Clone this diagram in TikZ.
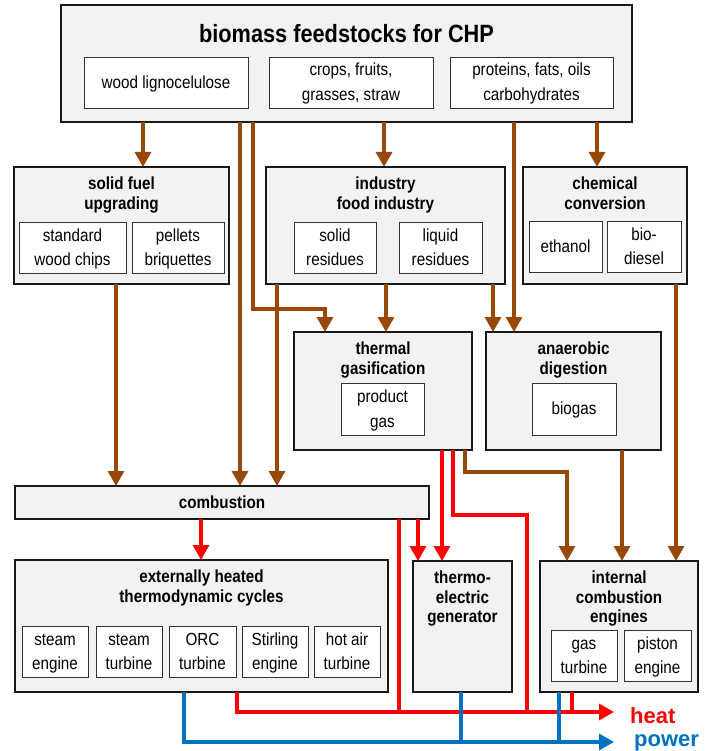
\documentclass[tikz,border=0pt]{standalone}
\usepackage{fontspec}
\setmainfont{Liberation Sans}[FakeStretch=0.87]
\newfontfamily\flowfont{Liberation Sans}
\usetikzlibrary{arrows.meta,positioning}
\definecolor{fuelbrown}{RGB}{151,71,6}
\definecolor{heatred}{RGB}{255,0,0}
\definecolor{powerblue}{RGB}{0,112,192}
\definecolor{panelgray}{RGB}{242,242,242}

\begin{document}
\begin{tikzpicture}[x=1pt, y=-1pt,
    stagebox/.style={draw=black!90, line width=1.5pt, fill=panelgray, inner sep=0pt, outer sep=0pt, anchor=north west},
    itembox/.style={draw=black!80, line width=0.9pt, fill=white, inner sep=0pt, outer sep=0pt, anchor=north west, align=center,
                    font=\fontsize{17.5}{24.5}\selectfont, text height=42.5pt, text depth=6.5pt},
    itemone/.style={itembox, text height=18pt},
    stagetitle/.style={inner sep=0pt, outer sep=0pt, align=center, font=\bfseries\fontsize{17.5}{19.5}\selectfont},
    fuelarrow/.style={draw=fuelbrown, line width=3.2pt, -{Triangle[length=15pt,width=16pt]}},
    heatarrow/.style={draw=heatred, line width=3.2pt, -{Triangle[length=15pt,width=16pt]}},
    heatline/.style={draw=heatred, line width=3.2pt},
    powerarrow/.style={draw=powerblue, line width=3.2pt, -{Triangle[length=15pt,width=16pt]}},
    powerline/.style={draw=powerblue, line width=3.2pt},
    flowlabel/.style={inner sep=0pt, font=\flowfont\bfseries\fontsize{22}{24}\selectfont}]
    \useasboundingbox (0,0) rectangle (710,751);
    % feedstocks
    \node[stagebox, minimum width=571pt, minimum height=117pt] (feed) at (61,5) {};
    \node[stagetitle, font=\bfseries\fontsize{25}{27}\selectfont, below=19pt of feed.north] (feedtitle) {biomass feedstocks for CHP};
    \node[itemone, minimum width=164pt, minimum height=51pt] (wood)     at (84,57)  {wood lignocelulose};
    \node[itembox, minimum width=164pt, minimum height=51pt] (crops)    at (269,57) {crops, fruits,\\grasses, straw};
    \node[itembox, minimum width=163pt, minimum height=51pt] (proteins) at (450,57) {proteins, fats, oils\\carbohydrates};
    % conversion stages
    \node[stagebox, minimum width=215pt, minimum height=117pt] (sfu) at (14,167) {};
    \node[stagetitle, below=10pt of sfu.north] (sfutitle) {solid fuel\\upgrading};
    \node[itembox, minimum width=107pt, minimum height=51pt] (chips)   at (19,222)  {standard\\wood chips};
    \node[itembox, minimum width=92pt, minimum height=51pt]  (pellets) at (132,222) {pellets\\briquettes};
    \node[stagebox, minimum width=239pt, minimum height=117pt] (ind) at (266,167) {};
    \node[stagetitle, below=10pt of ind.north] (indtitle) {industry\\food industry};
    \node[itembox, minimum width=82pt, minimum height=51pt] (solid)  at (294,222) {solid\\residues};
    \node[itembox, minimum width=83pt, minimum height=51pt] (liquid) at (399,222) {liquid\\residues};
    \node[stagebox, minimum width=164pt, minimum height=117pt] (chem) at (523,167) {};
    \node[stagetitle, below=10pt of chem.north] (chemtitle) {chemical\\conversion};
    \node[itemone, minimum width=73pt, minimum height=51pt] (ethanol)   at (529,221) {ethanol};
    \node[itembox, minimum width=74pt, minimum height=51pt] (biodiesel) at (607,221) {bio-\\diesel};
    \node[stagebox, minimum width=178pt, minimum height=118pt] (gas) at (294,332) {};
    \node[stagetitle, below=10pt of gas.north] (gastitle) {thermal\\gasification};
    \node[itembox, minimum width=83pt, minimum height=52pt] (prodgas) at (341,383) {product\\gas};
    \node[stagebox, minimum width=175pt, minimum height=118pt] (anae) at (486,332) {};
    \node[stagetitle, below=10pt of anae.north] (anaetitle) {anaerobic\\digestion};
    \node[itemone, minimum width=84pt, minimum height=52pt] (biogas) at (532,383) {biogas};
    \node[stagebox, minimum width=414pt, minimum height=33pt] (comb) at (15,486) {};
    \node[stagetitle] (combtitle) at (comb.center) {combustion};
    % prime movers
    \node[stagebox, minimum width=373pt, minimum height=132pt] (ext) at (15,560) {};
    \node[stagetitle, below=10pt of ext.north] (exttitle) {externally heated\\thermodynamic cycles};
    \node[itembox, minimum width=66pt, minimum height=51pt] (steameng) at (22,626)  {steam\\engine};
    \node[itembox, minimum width=66pt, minimum height=51pt] (steamtur) at (96,626)  {steam\\turbine};
    \node[itembox, minimum width=67pt, minimum height=51pt] (orc)      at (169,626) {ORC\\turbine};
    \node[itembox, minimum width=66pt, minimum height=51pt] (stirling) at (242,626) {Stirling\\engine};
    \node[itembox, minimum width=66pt, minimum height=51pt] (hotair)   at (314,626) {hot air\\turbine};
    \node[stagebox, minimum width=99pt, minimum height=131pt] (teg) at (413,561) {};
    \node[stagetitle, below=10pt of teg.north] (tegtitle) {thermo-\\electric\\generator};
    \node[stagebox, minimum width=158pt, minimum height=131pt] (ice) at (540,561) {};
    \node[stagetitle, below=10pt of ice.north] (icetitle) {internal\\combustion\\engines};
    \node[itembox, minimum width=66pt, minimum height=51pt] (gasturb) at (551,630) {gas\\turbine};
    \node[itembox, minimum width=67pt, minimum height=51pt] (piston)  at (624,630) {piston\\engine};
    % outputs
    \coordinate (heatend)  at (614,712);
    \coordinate (powerend) at (614,742);
    \node[flowlabel, text=heatred, anchor=base west]    (heatlabel)  at (630,723) {heat};
    \node[flowlabel, text=powerblue, anchor=base west]  (powerlabel) at (634,746) {power};
    % fuel flows
    \draw[fuelarrow] (feed.south -| 143,0) -- (sfu.north -| 143,0);
    \draw[fuelarrow] (feed.south -| 240,0) -- (comb.north -| 240,0);
    \draw[fuelarrow] (feed.south -| 253,0) |- (325,309) -- (gas.north -| 325,0);
    \draw[fuelarrow] (feed.south -| 384,0) -- (ind.north -| 384,0);
    \draw[fuelarrow] (feed.south -| 514,0) -- (anae.north -| 514,0);
    \draw[fuelarrow] (feed.south -| 597,0) -- (chem.north -| 597,0);
    \draw[fuelarrow] (sfu.south -| 116,0) -- (comb.north -| 116,0);
    \draw[fuelarrow] (ind.south -| 277,0) -- (comb.north -| 277,0);
    \draw[fuelarrow] (ind.south -| 386,0) -- (gas.north -| 386,0);
    \draw[fuelarrow] (ind.south -| 493,0) -- (anae.north -| 493,0);
    \draw[fuelarrow] (chem.south -| 676,0) -- (ice.north -| 676,0);
    \draw[fuelarrow] (gas.south -| 465,0) |- (567,472) -- (ice.north -| 567,0);
    \draw[fuelarrow] (anae.south -| 622,0) -- (ice.north -| 622,0);
    % heat flows
    \draw[heatarrow] (comb.south -| 201,0) -- (ext.north -| 201,0);
    \draw[heatarrow] (comb.south -| 418,0) -- (teg.north -| 418,0);
    \draw[heatarrow] (gas.south -| 442,0) -- (teg.north -| 442,0);
    \draw[heatline] (comb.south -| 399,0) -- (heatend -| 399,0);
    \draw[heatline] (gas.south -| 453,0) |- (527,515) -- (heatend -| 527,0);
    \draw[heatline] (ice.south -| 572,0) -- (heatend -| 572,0);
    \draw[heatarrow] (ext.south -| 237,0) |- (heatend);
    % power flows
    \draw[powerline] (teg.south -| 461,0) -- (powerend -| 461,0);
    \draw[powerline] (ice.south -| 559,0) -- (powerend -| 559,0);
    \draw[powerarrow] (ext.south -| 184,0) |- (powerend);
\end{tikzpicture}
\end{document}
